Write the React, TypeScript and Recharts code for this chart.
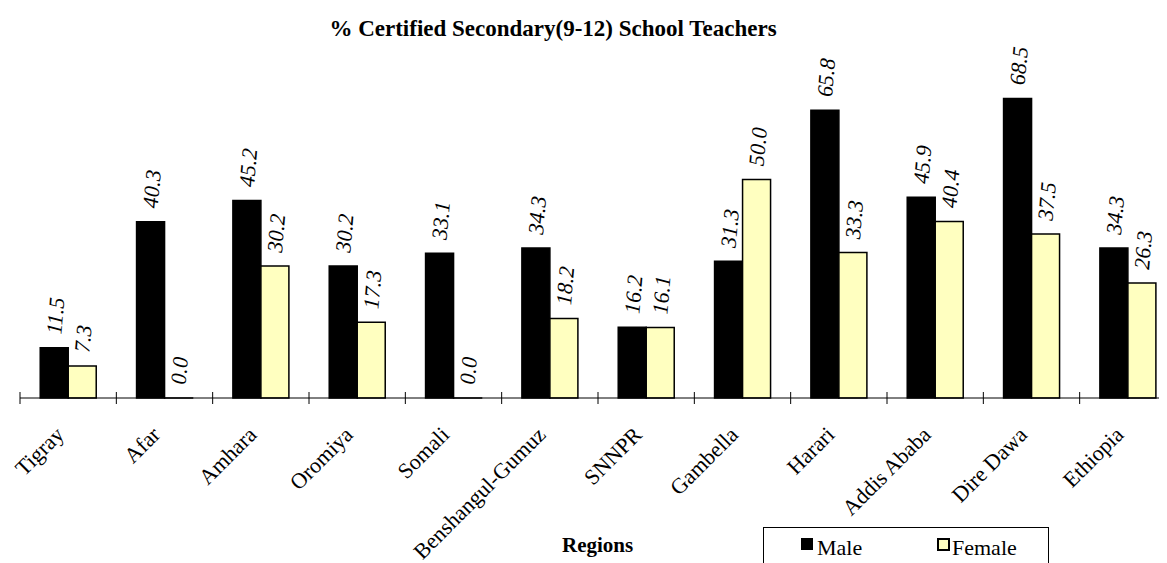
import React from 'react';
import { BarChart, Bar, XAxis, YAxis, LabelList } from 'recharts';

const regions = [
  'Tigray', 'Afar', 'Amhara', 'Oromiya', 'Somali', 'Benshangul-Gumuz',
  'SNNPR', 'Gambella', 'Harari', 'Addis Ababa', 'Dire Dawa', 'Ethiopia',
];
const male = [11.5, 40.3, 45.2, 30.2, 33.1, 34.3, 16.2, 31.3, 65.8, 45.9, 68.5, 34.3];
const female = [7.3, 0.0, 30.2, 17.3, 0.0, 18.2, 16.1, 50.0, 33.3, 40.4, 37.5, 26.3];

const data = regions.map((region, i) => ({ region, male: male[i], female: female[i] }));

const FONT = '"Liberation Serif", "Times New Roman", serif';

// value labels sit above the bar, turned almost vertical and in italics
const ValueLabel = (props: any) => {
  const { x, y, width, height, value } = props;
  const top = Number(y) + Math.min(0, Number(height) || 0);
  const cx = Number(x) + Number(width) / 2 + 7;
  const by = top - 13;
  return (
    <text
      x={cx}
      y={by}
      transform={`rotate(-85, ${cx}, ${by})`}
      textAnchor="start"
      fontFamily={FONT}
      fontStyle="italic"
      fontSize={22}
      fill="#000"
    >
      {Number(value).toFixed(1)}
    </text>
  );
};

// tick marks go on the category boundaries, the name under the middle
const RegionTick = (props: any) => {
  const { x, y, payload } = props;
  const half = payload && payload.offset ? payload.offset : 48.2;
  const ax = y - 8;
  const tx = x - 3;
  const ty = ax + 38;
  return (
    <g>
      <line x1={x - half} x2={x - half} y1={ax - 6} y2={ax + 6} stroke="#000" strokeWidth={1} />
      <text
        x={tx}
        y={ty}
        transform={`rotate(-45, ${tx}, ${ty})`}
        textAnchor="end"
        fontFamily={FONT}
        fontSize={22}
        fill="#000"
      >
        {payload.value}
      </text>
    </g>
  );
};

// zero bars still need their "0.0" label, so give them a hairline height
const zeroMin = (value: any) => (Number(value) === 0 ? 0.01 : 0);

export default function App() {
  return (
    <div style={{ position: 'relative', width: 1159, height: 555, overflow: 'hidden', fontFamily: FONT }}>
      <div
        style={{
          position: 'absolute', left: 0, top: 8, width: 1090, textAlign: 'center',
          fontWeight: 'bold', fontSize: 23, fontFamily: FONT,
        }}
      >
        % Certified Secondary(9-12) School Teachers
      </div>
      <BarChart
        width={1168}
        height={555}
        data={data}
        margin={{ top: 84, right: 0, bottom: 0, left: 12 }}
        barCategoryGap="21%"
        barGap={0}
      >
        <YAxis hide domain={[0, 70]} />
        <XAxis
          dataKey="region"
          interval={0}
          tickLine={false}
          axisLine={{ stroke: '#000', strokeWidth: 1 }}
          tick={<RegionTick />}
          height={165}
        />
        <Bar dataKey="male" fill="#000" stroke="#000" strokeWidth={1.5} isAnimationActive={false}>
          <LabelList dataKey="male" content={<ValueLabel />} />
        </Bar>
        <Bar
          dataKey="female"
          fill="#FFFFC0"
          stroke="#000"
          strokeWidth={1.5}
          minPointSize={zeroMin}
          isAnimationActive={false}
        >
          <LabelList dataKey="female" content={<ValueLabel />} />
        </Bar>
      </BarChart>
      <div
        style={{
          position: 'absolute', left: 554, top: 525, fontWeight: 'bold', fontSize: 21, fontFamily: FONT,
        }}
      >
        Regions
      </div>
      <div
        style={{
          position: 'absolute', left: 755, top: 519, width: 286, height: 50,
          border: '1px solid #000', boxSizing: 'border-box', background: '#fff',
        }}
      >
        <div style={{ position: 'absolute', left: 37, top: 10, width: 12, height: 12, background: '#000' }} />
        <div style={{ position: 'absolute', left: 53, top: 7, fontSize: 22 }}>Male</div>
        <div
          style={{
            position: 'absolute', left: 173, top: 10, width: 9, height: 9,
            background: '#FFFFC0', border: '2px solid #000',
          }}
        />
        <div style={{ position: 'absolute', left: 188, top: 7, fontSize: 22 }}>Female</div>
      </div>
    </div>
  );
}
